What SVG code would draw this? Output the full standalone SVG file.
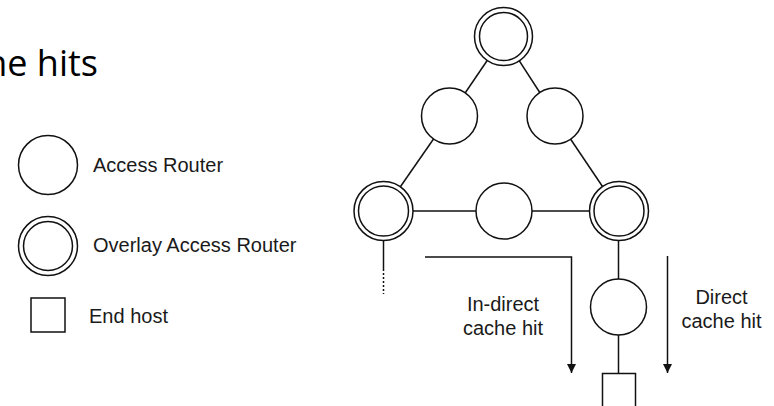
<svg xmlns="http://www.w3.org/2000/svg" width="774" height="406" viewBox="0 0 774 406">
<style>
.ln{stroke:#111;stroke-width:1.5;fill:none}
.nd{stroke:#111;stroke-width:1.5;fill:#fff}
.in{stroke:#111;stroke-width:1.5;fill:none}
.lbl{font-family:"Liberation Sans",Arial,sans-serif;font-size:20px;fill:#1a1a1a}
.ttl{font-family:"Open Sans","Liberation Sans",sans-serif;font-size:36px;fill:#000}
</style>
<defs>
<marker id="ah" markerUnits="userSpaceOnUse" markerWidth="10" markerHeight="10" refX="9" refY="4.5" orient="auto">
<path d="M0,0 L9,4.5 L0,9 Z" fill="#111"/>
</marker>
</defs>
<rect width="774" height="406" fill="#fff"/>
<text class="ttl" x="98" y="76" text-anchor="end">he hits</text>

<g id="legend">
<g id="legend-access-router">
<circle class="nd" cx="48" cy="165" r="29.5"/>
<text class="lbl" x="93" y="172">Access Router</text>
</g>
<g id="legend-overlay-router">
<circle class="nd" cx="48" cy="246" r="29.5"/>
<circle class="in" cx="48" cy="246" r="24.5"/>
<text class="lbl" x="93" y="252">Overlay Access Router</text>
</g>
<g id="legend-end-host">
<rect class="nd" x="31" y="298" width="34" height="34"/>
<text class="lbl" x="89" y="323">End host</text>
</g>
</g>

<g id="connectors">
<line class="ln" x1="503.5" y1="36.5" x2="449.5" y2="116"/>
<line class="ln" x1="503.5" y1="36.5" x2="555" y2="116"/>
<line class="ln" x1="449.5" y1="116" x2="383.5" y2="211"/>
<line class="ln" x1="555" y1="116" x2="619" y2="211"/>
<line class="ln" x1="383.5" y1="211" x2="619" y2="211"/>
<line class="ln" x1="618.5" y1="211" x2="618.5" y2="374"/>
<line class="ln" x1="383.5" y1="240" x2="383.5" y2="269"/>
<line class="ln" x1="383.5" y1="269" x2="383.5" y2="294" stroke-dasharray="2,2"/>
<polyline class="ln" points="425,257 571.5,257 571.5,373" marker-end="url(#ah)"/>
<line class="ln" x1="667.5" y1="256" x2="667.5" y2="373" marker-end="url(#ah)"/>
</g>

<g id="node-top"><circle class="nd" cx="503.5" cy="36.5" r="29"/><circle class="in" cx="503.5" cy="36.5" r="24"/></g>
<g id="node-mid-left"><circle class="nd" cx="449.5" cy="116" r="28"/></g>
<g id="node-mid-right"><circle class="nd" cx="555" cy="116" r="28"/></g>
<g id="node-bottom-left"><circle class="nd" cx="383.5" cy="211" r="29.5"/><circle class="in" cx="383.5" cy="211" r="25"/></g>
<g id="node-bottom-middle"><circle class="nd" cx="504" cy="211" r="28"/></g>
<g id="node-bottom-right"><circle class="nd" cx="619" cy="211" r="29.5"/><circle class="in" cx="619" cy="211" r="25"/></g>
<g id="node-lower"><circle class="nd" cx="618.5" cy="307" r="28"/></g>
<g id="node-end-host"><rect class="nd" x="602.5" y="373.5" width="33" height="40"/></g>

<g id="labels">
<text class="lbl" x="503" y="311" text-anchor="middle">In-direct</text>
<text class="lbl" x="503" y="335" text-anchor="middle">cache hit</text>
<text class="lbl" x="721.5" y="304" text-anchor="middle">Direct</text>
<text class="lbl" x="721.5" y="328" text-anchor="middle">cache hit</text>
</g>
</svg>
